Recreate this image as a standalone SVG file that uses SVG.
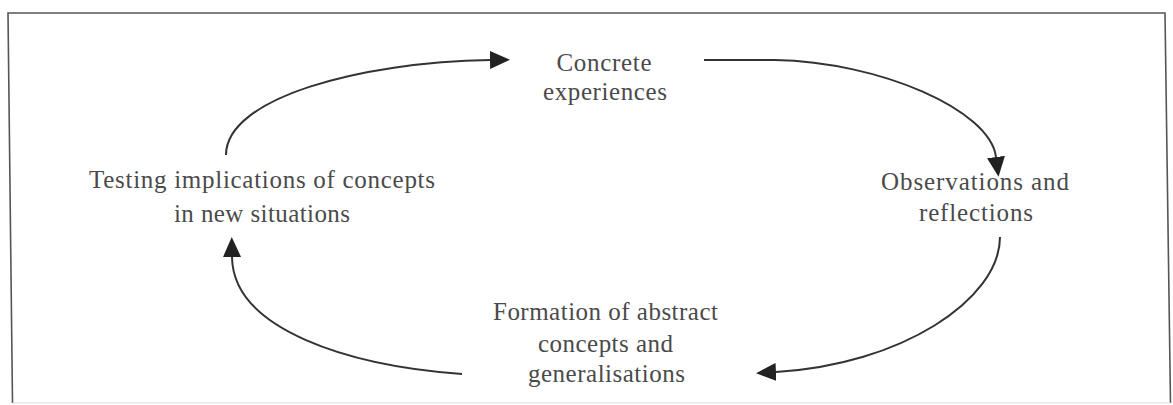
<svg xmlns="http://www.w3.org/2000/svg" width="1173" height="405" viewBox="0 0 1173 405">
  <style>
    .label { font-family: "Liberation Serif", "Times New Roman", serif; font-size: 25px; fill: #4a4a4a; text-anchor: middle; }
    .flow { fill: none; stroke: #333; stroke-width: 2; }
    .frame { fill: none; stroke: #555; stroke-width: 1.6; }
  </style>
  <defs>
    <marker id="head" viewBox="0 0 20 18" refX="0" refY="9" markerWidth="20" markerHeight="18" markerUnits="userSpaceOnUse" orient="auto">
      <path d="M0,0 L20,9 L0,18 z" fill="#222"/>
    </marker>
  </defs>

  <rect width="1173" height="405" fill="#fff"/>

  <!-- outer frame -->
  <g id="frame">
    <path class="frame" d="M12.5,403 L8,13 L1165,13 L1170.5,403"/>
    <line x1="12.5" y1="403" x2="1170.5" y2="403" stroke="#ddd" stroke-width="1.2"/>
  </g>

  <!-- cycle connectors -->
  <g id="connectors">
    <path class="flow" d="M226,155 C226,98 360,62 490,60" marker-end="url(#head)"/>
    <path class="flow" d="M704,60 L775,60 C880,62 990,110 996,157" marker-end="url(#head)"/>
    <path class="flow" d="M1000,237 C1000,300 900,365 776,372" marker-end="url(#head)"/>
    <path class="flow" d="M462,374 C350,366 233,330 232,257" marker-end="url(#head)"/>
  </g>

  <g id="concrete">
    <text class="label" x="604" y="71" textLength="95" lengthAdjust="spacing">Concrete</text>
    <text class="label" x="605" y="100" textLength="124" lengthAdjust="spacing">experiences</text>
  </g>

  <g id="observations">
    <text class="label" x="975" y="190" textLength="188" lengthAdjust="spacing">Observations and</text>
    <text class="label" x="976" y="221" textLength="114" lengthAdjust="spacing">reflections</text>
  </g>

  <g id="abstract">
    <text class="label" x="605.5" y="320" textLength="225" lengthAdjust="spacing">Formation of abstract</text>
    <text class="label" x="605.5" y="352" textLength="135" lengthAdjust="spacing">concepts and</text>
    <text class="label" x="606.5" y="382" textLength="157" lengthAdjust="spacing">generalisations</text>
  </g>

  <g id="testing">
    <text class="label" x="262" y="188" textLength="346" lengthAdjust="spacing">Testing implications of concepts</text>
    <text class="label" x="262" y="222" textLength="176" lengthAdjust="spacing">in new situations</text>
  </g>
</svg>
